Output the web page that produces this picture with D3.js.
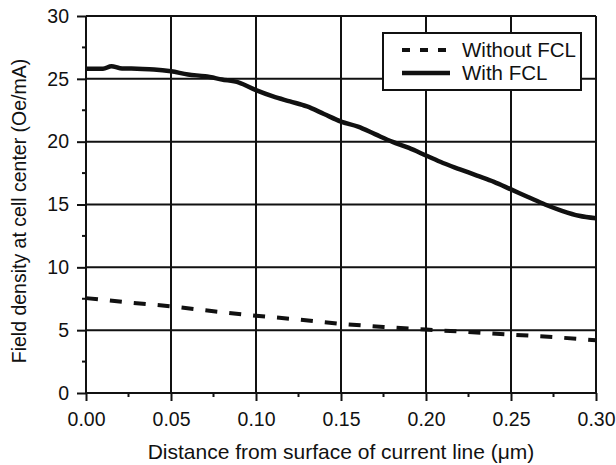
<!DOCTYPE html>
<html>
<head>
<meta charset="utf-8">
<script src="https://cdn.jsdelivr.net/npm/d3@7"></script>
<style>
  body { margin: 0; background: #fff; }
  text { font-family: "Liberation Sans", Arial, sans-serif; fill: #111; }
</style>
</head>
<body>
<div id="chart"></div>
<script>
// 数据：从图上读出
const distWith = [0, 0.01, 0.015, 0.02, 0.03, 0.04, 0.05, 0.06, 0.07, 0.08, 0.09, 0.10, 0.11, 0.12, 0.13, 0.14, 0.15,
                  0.16, 0.17, 0.18, 0.19, 0.20, 0.21, 0.22, 0.23, 0.24, 0.25, 0.26, 0.27, 0.28, 0.29, 0.30];
const withFCL = [25.8, 25.8, 26.0, 25.85, 25.8, 25.75, 25.6, 25.35, 25.2, 24.95, 24.7, 24.1, 23.6, 23.2, 22.8, 22.2, 21.6,
                 21.2, 20.6, 20.0, 19.5, 18.9, 18.3, 17.8, 17.3, 16.8, 16.2, 15.6, 15.0, 14.5, 14.1, 13.9];
const distWithout = [0, 0.025, 0.05, 0.075, 0.10, 0.125, 0.15, 0.175, 0.20, 0.225, 0.25, 0.275, 0.30];
const withoutFCL = [7.55, 7.2, 6.9, 6.5, 6.15, 5.85, 5.5, 5.25, 5.05, 4.85, 4.65, 4.45, 4.2];
const xTicks = [0, 0.05, 0.10, 0.15, 0.20, 0.25, 0.30];
const yTicks = [0, 5, 10, 15, 20, 25, 30];
const legendLabels = ["Without FCL", "With FCL"];

const width = 616, height = 465;
const margin = { left: 86, right: 20, top: 16, bottom: 72 };

const svg = d3.select("#chart").append("svg")
    .attr("width", width).attr("height", height);

const x = d3.scaleLinear().domain([0, 0.30]).range([margin.left, width - margin.right]);
const y = d3.scaleLinear().domain([0, 30]).range([height - margin.bottom, margin.top]);

// 网格线
const grid = svg.append("g").attr("stroke", "#111").attr("stroke-width", 2);
grid.selectAll(".gx").data(xTicks).enter().append("line")
    .attr("x1", d => x(d)).attr("x2", d => x(d))
    .attr("y1", y(0)).attr("y2", y(30));
grid.selectAll(".gy").data(yTicks).enter().append("line")
    .attr("x1", x(0)).attr("x2", x(0.30))
    .attr("y1", d => y(d)).attr("y2", d => y(d));

// 坐标轴
const yAxis = d3.axisLeft(y).tickValues(yTicks).tickSize(9).tickPadding(8).tickFormat(d3.format("d"));
const gy = svg.append("g").attr("transform", `translate(${x(0)},0)`).call(yAxis);
gy.select(".domain").remove();
gy.selectAll("line").attr("stroke", "#111").attr("stroke-width", 2);
gy.selectAll("text").attr("font-size", 19.5);

const xAxis = d3.axisBottom(x).tickValues(xTicks).tickSize(8).tickPadding(11).tickFormat(d3.format(".2f"));
const gx = svg.append("g").attr("transform", `translate(0,${y(0)})`).call(xAxis);
gx.select(".domain").remove();
gx.selectAll("line").attr("stroke", "#111").attr("stroke-width", 2);
gx.selectAll("text").attr("font-size", 19.5);

// 次刻度
const minorY = d3.range(2.5, 30, 5);
svg.append("g").selectAll("line").data(minorY).enter().append("line")
    .attr("x1", x(0) - 4).attr("x2", x(0))
    .attr("y1", d => y(d)).attr("y2", d => y(d))
    .attr("stroke", "#111").attr("stroke-width", 2);
const minorX = d3.range(0.025, 0.30, 0.05);
svg.append("g").selectAll("line").data(minorX).enter().append("line")
    .attr("x1", d => x(d)).attr("x2", d => x(d))
    .attr("y1", y(0)).attr("y2", y(0) + 4)
    .attr("stroke", "#111").attr("stroke-width", 2);

// 曲线
svg.append("path")
    .datum(distWithout.map((d, i) => [d, withoutFCL[i]]))
    .attr("d", d3.line().x(d => x(d[0])).y(d => y(d[1])))
    .attr("fill", "none")
    .attr("stroke", "#111").attr("stroke-width", 4)
    .attr("stroke-dasharray", "12,12");
svg.append("path")
    .datum(distWith.map((d, i) => [d, withFCL[i]]))
    .attr("d", d3.line().x(d => x(d[0])).y(d => y(d[1])).curve(d3.curveMonotoneX))
    .attr("fill", "none")
    .attr("stroke", "#111").attr("stroke-width", 4.5);

// 图例
const lg = svg.append("g").attr("transform", "translate(383,33)");
lg.append("rect").attr("width", 198).attr("height", 57)
    .attr("fill", "#fff").attr("stroke", "#111").attr("stroke-width", 2);
legendLabels.forEach((lab, i) => {
    const yy = 17 + i * 23;
    lg.append("line").attr("x1", 19).attr("x2", 67).attr("y1", yy).attr("y2", yy)
        .attr("stroke", "#111").attr("stroke-width", i === 0 ? 4 : 4.5)
        .attr("stroke-dasharray", i === 0 ? "8,10" : null);
    lg.append("text").attr("x", 79).attr("y", yy + 7).attr("font-size", 20.5).text(lab);
});

// 轴标题
svg.append("text")
    .attr("x", (x(0) + x(0.30)) / 2).attr("y", 459)
    .attr("text-anchor", "middle").attr("font-size", 21)
    .text("Distance from surface of current line (\u03bcm)");
svg.append("text")
    .attr("transform", `translate(26,211) rotate(-90)`)
    .attr("text-anchor", "middle").attr("font-size", 19.5)
    .text("Field density at cell center (Oe/mA)");
</script>
</body>
</html>
